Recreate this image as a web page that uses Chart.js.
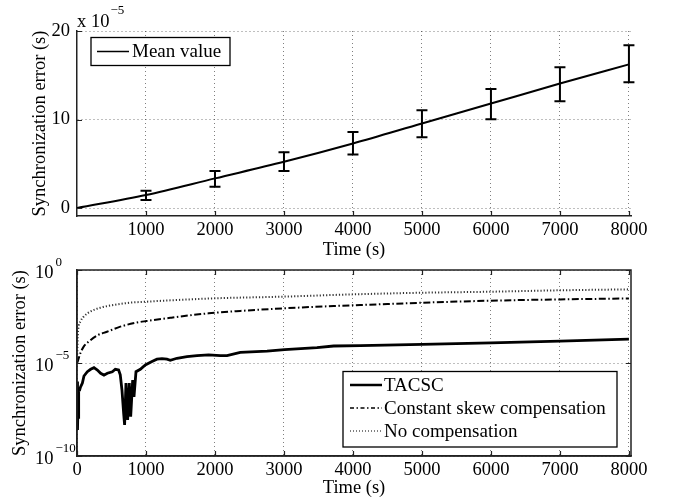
<!DOCTYPE html>
<html lang="en">
<head>
<meta charset="UTF-8">
<title>Synchronization error</title>
<script src="https://cdn.jsdelivr.net/npm/chart.js@4"></script>
<style>
  body { margin: 0; background: #fff; }
  #wrap { position: relative; width: 673px; height: 502px; }
  .plot { position: absolute; left: 0; width: 673px; }
  #topBox { top: 0; height: 270px; }
  #bottomBox { top: 250px; height: 252px; }
</style>
</head>
<body>
<div id="wrap">
  <div class="plot" id="topBox"><canvas id="topChart"></canvas></div>
  <div class="plot" id="bottomBox"><canvas id="bottomChart"></canvas></div>
</div>
<script>
// ---- top panel: mean synchronization error, in units of 1e-5 s ----
var meanTimes  = [0, 1000, 2000, 3000, 4000, 5000, 6000, 7000, 8000];
var meanValues = [0, 1.47, 3.35, 5.22, 7.29, 9.55, 11.8, 14.06, 16.23];
var errTimes   = [1000, 2000, 3000, 4000, 5000, 6000, 7000, 8000];
var errLow     = [0.9, 2.4, 4.17, 6.05, 8.0, 10.03, 12.06, 14.2];
var errHigh    = [1.95, 4.17, 6.3, 8.6, 11.05, 13.45, 15.9, 18.4];
var topXTicks  = [1000, 2000, 3000, 4000, 5000, 6000, 7000, 8000];
var topYTicks  = [0, 10, 20];

// ---- bottom panel: synchronization error (s), log scale ----
var tacscTimes  = [0, 5, 10, 15, 20, 28, 38, 50, 78, 101, 150, 198, 246, 295, 343, 391, 440, 512, 555, 603, 627,
                   652, 676, 690, 710, 734, 758, 778, 807, 826, 855, 918, 990, 1087, 1159, 1232, 1304, 1352, 1449,
                   1594, 1739, 1908, 2077, 2174, 2367, 2754, 3009, 3478, 3720, 4106, 5000, 6000, 7000, 8000];
var tacscValues = [1.0e-6, 1.0e-8, 2.5e-9, 1.0e-7, 1.0e-8, 3.2e-7, 3.5e-7, 5.0e-7, 8.3e-7, 2.0e-6, 3.4e-6, 4.6e-6,
                   5.6e-6, 4.2e-6, 2.8e-6, 2.2e-6, 2.8e-6, 3.4e-6, 4.6e-6, 4.2e-6, 2.3e-6,
                   3.5e-7, 2.0e-8, 4.7e-9, 8.3e-7, 8.7e-9, 8.3e-7, 1.3e-8, 1.2e-6, 1.5e-7, 3.4e-6, 4.6e-6, 7.8e-6,
                   1.2e-5, 1.6e-5, 1.7e-5, 1.6e-5, 1.4e-5, 1.8e-5,
                   2.2e-5, 2.5e-5, 2.7e-5, 2.5e-5, 2.5e-5, 3.7e-5, 4.4e-5, 5.2e-5, 6.7e-5, 8.2e-5, 8.6e-5,
                   1.0e-4, 1.2e-4, 1.5e-4, 1.9e-4];
var constTimes  = [0, 10, 48, 97, 169, 290, 435, 628, 869, 1005, 1352, 1908, 2367, 3009, 3720, 4106, 5000, 6000, 7000, 8000];
var constValues = [1.0e-5, 1.2e-5, 3.3e-5, 7.6e-5, 1.4e-4, 3.0e-4, 4.8e-4, 9.0e-4, 1.5e-3, 1.8e-3, 2.7e-3, 4.7e-3,
                   6.3e-3, 8.7e-3, 1.16e-2, 1.31e-2, 1.74e-2, 2.24e-2, 2.63e-2, 2.95e-2];
var noCompTimes  = [0, 15, 48, 97, 193, 338, 531, 773, 1005, 1352, 2000, 3000, 4000, 5000, 6000, 7000, 8000];
var noCompValues = [1.3e-5, 5.0e-4, 1.67e-3, 3.1e-3, 5.8e-3, 9.4e-3, 1.31e-2, 1.75e-2, 1.98e-2, 2.34e-2, 3.0e-2,
                    3.7e-2, 4.9e-2, 6.0e-2, 6.8e-2, 8.1e-2, 9.1e-2];
var bottomXTicks  = [0, 1000, 2000, 3000, 4000, 5000, 6000, 7000, 8000];
var bottomYTicks  = [1e-10, 1e-5, 1];
var bottomYLabels = ['\u221210', '\u22125', '0'];

var FONT = '"Liberation Serif", "Times New Roman", serif';
var gridColor = 'rgba(0,0,0,0.5)';

function pairs(xs, ys) {
    return xs.map(function (x, i) { return { x: x, y: ys[i] }; });
}
function fixTicks(values) {
    return function (scale) {
        scale.ticks = values.map(function (v) { return { value: v }; });
    };
}
function plainLabel(v) { return String(v); }

// error bars on the mean curve
var errorBarPlugin = {
    id: 'errorBars',
    afterDatasetsDraw: function (chart) {
        var xs = chart.scales.x, ys = chart.scales.y, ctx = chart.ctx;
        ctx.save();
        ctx.strokeStyle = '#000';
        ctx.lineWidth = 2;
        for (var i = 0; i < errTimes.length; i++) {
            var px = xs.getPixelForValue(errTimes[i]);
            var lo = ys.getPixelForValue(errLow[i]);
            var hi = ys.getPixelForValue(errHigh[i]);
            ctx.beginPath();
            ctx.moveTo(px, lo); ctx.lineTo(px, hi);
            ctx.moveTo(px - 5.5, lo); ctx.lineTo(px + 5.5, lo);
            ctx.moveTo(px - 5.5, hi); ctx.lineTo(px + 5.5, hi);
            ctx.stroke();
        }
        ctx.restore();
    }
};

// inward tick marks, optional full box, legend box and exponent labels
var framePlugin = {
    id: 'frame',
    afterDraw: function (chart, args, opts) {
        var ctx = chart.ctx, a = chart.chartArea;
        var xs = chart.scales.x, ys = chart.scales.y;
        ctx.save();
        ctx.strokeStyle = '#222';
        ctx.lineWidth = 1.2;
        ctx.beginPath();
        xs.ticks.forEach(function (t) {
            var px = Math.round(xs.getPixelForValue(t.value)) + 0.5;
            ctx.moveTo(px, a.bottom); ctx.lineTo(px, a.bottom - 5);
            if (opts.box) { ctx.moveTo(px, a.top); ctx.lineTo(px, a.top + 5); }
        });
        ys.ticks.forEach(function (t) {
            var py = Math.round(ys.getPixelForValue(t.value)) + 0.5;
            ctx.moveTo(a.left, py); ctx.lineTo(a.left + 5, py);
            if (opts.box) { ctx.moveTo(a.right, py); ctx.lineTo(a.right - 5, py); }
        });
        ctx.stroke();
        if (opts.box) {
            ctx.lineWidth = 1.5;
            ctx.strokeRect(a.left, a.top, a.right - a.left, a.bottom - a.top);
        }

        // legend
        var lg = opts.legend;
        if (lg) {
            ctx.fillStyle = '#fff';
            ctx.fillRect(lg.left, lg.top, lg.width, lg.height);
            ctx.strokeStyle = '#000';
            ctx.lineWidth = 1.3;
            ctx.setLineDash([]);
            ctx.strokeRect(lg.left, lg.top, lg.width, lg.height);
            ctx.font = '19px ' + FONT;
            ctx.fillStyle = '#000';
            ctx.textBaseline = 'middle';
            lg.items.forEach(function (it, i) {
                var cy = lg.firstRow + i * lg.rowHeight;
                ctx.save();
                ctx.strokeStyle = it.color || '#000';
                ctx.lineWidth = it.width;
                ctx.setLineDash(it.dash || []);
                ctx.beginPath();
                ctx.moveTo(lg.lineX0, cy); ctx.lineTo(lg.lineX1, cy);
                ctx.stroke();
                ctx.restore();
                ctx.fillText(it.label, lg.textX, cy + 1);
            });
        }

        // exponent notes
        ctx.fillStyle = '#000';
        ctx.textBaseline = 'middle';
        ctx.textAlign = 'left';
        if (opts.multiplier) {
            ctx.font = '18.5px ' + FONT;
            var w = ctx.measureText('x 10').width;
            ctx.fillText('x 10', a.left, a.top - 9);
            ctx.font = '13px ' + FONT;
            ctx.fillText('\u22125', a.left + w + 1, a.top - 20);
        }
        if (opts.logLabels) {
            ys.ticks.forEach(function (t, i) {
                var py = ys.getPixelForValue(t.value);
                ctx.font = '18.5px ' + FONT;
                ctx.fillText('10', 35, py + 3);
                ctx.font = '13px ' + FONT;
                ctx.fillText(bottomYLabels[i], 55.5, py - 7);
            });
        }
        ctx.restore();
    }
};

function axisTitle(text, padding) {
    return { display: true, text: text, color: '#000', font: { family: FONT, size: 18.5 }, padding: padding };
}
var tickFont = { family: FONT, size: 18.5 };

// ---------- top chart ----------
new Chart(document.getElementById('topChart').getContext('2d'), {
    type: 'line',
    data: {
        datasets: [{
            label: 'Mean value',
            data: pairs(meanTimes, meanValues),
            borderColor: '#000',
            borderWidth: 2,
            pointRadius: 0,
            cubicInterpolationMode: 'monotone'
        }]
    },
    options: {
        animation: false,
        responsive: true,
        maintainAspectRatio: false,
        devicePixelRatio: 1,
        layout: { padding: { left: 0, right: 42, top: 31, bottom: 0 } },
        plugins: {
            legend: { display: false },
            tooltip: { enabled: false },
            frame: {
                box: false,
                multiplier: true,
                legend: {
                    left: 91, top: 37.5, width: 139, height: 28,
                    firstRow: 51.5, rowHeight: 0,
                    lineX0: 97, lineX1: 129, textX: 132,
                    items: [{ label: 'Mean value', width: 1.5 }]
                }
            }
        },
        scales: {
            x: {
                type: 'linear', min: 0, max: 8030,
                afterBuildTicks: fixTicks(topXTicks),
                afterFit: function (s) { s.height = 54; },
                grid: { color: gridColor, drawTicks: false, lineWidth: 1 },
                border: { display: true, color: '#222', width: 1.5, dash: [1, 3] },
                ticks: { color: '#000', font: tickFont, padding: 3, maxRotation: 0, autoSkip: false, callback: plainLabel },
                title: axisTitle('Time (s)', { top: 0, bottom: 9 })
            },
            y: {
                type: 'linear', min: -0.9, max: 20,
                afterBuildTicks: fixTicks(topYTicks),
                afterFit: function (s) { s.width = 77; },
                grid: { color: gridColor, drawTicks: false, lineWidth: 1 },
                border: { display: true, color: '#222', width: 1.5, dash: [1, 3] },
                ticks: { color: '#000', font: tickFont, padding: 7, callback: plainLabel },
                title: axisTitle('Synchronization error (s)', { top: 29, bottom: 0 })
            }
        }
    },
    plugins: [errorBarPlugin, framePlugin]
});

// ---------- bottom chart ----------
new Chart(document.getElementById('bottomChart').getContext('2d'), {
    type: 'line',
    data: {
        datasets: [{
            label: 'No compensation',
            data: pairs(noCompTimes, noCompValues),
            borderColor: '#333',
            borderWidth: 2,
            borderDash: [1.2, 2],
            pointRadius: 0,
            cubicInterpolationMode: 'monotone'
        }, {
            label: 'Constant skew compensation',
            data: pairs(constTimes, constValues),
            borderColor: '#000',
            borderWidth: 2,
            borderDash: [7, 2.5, 1.5, 2.5],
            pointRadius: 0,
            cubicInterpolationMode: 'monotone'
        }, {
            label: 'TACSC',
            data: pairs(tacscTimes, tacscValues),
            borderColor: '#000',
            borderWidth: 2.8,
            pointRadius: 0,
            tension: 0
        }]
    },
    options: {
        animation: false,
        responsive: true,
        maintainAspectRatio: false,
        devicePixelRatio: 1,
        layout: { padding: { left: 0, right: 42, top: 20, bottom: 0 } },
        plugins: {
            legend: { display: false },
            tooltip: { enabled: false },
            frame: {
                box: true,
                logLabels: true,
                legend: {
                    left: 343, top: 121.5, width: 274, height: 75.5,
                    firstRow: 135, rowHeight: 23,
                    lineX0: 350, lineX1: 382, textX: 384,
                    items: [
                        { label: 'TACSC', width: 2.5 },
                        { label: 'Constant skew compensation', width: 1.5, dash: [4, 2.5, 1.5, 2.5] },
                        { label: 'No compensation', width: 1.5, dash: [1, 2], color: '#555' }
                    ]
                }
            }
        },
        scales: {
            x: {
                type: 'linear', min: 0, max: 8030,
                afterBuildTicks: fixTicks(bottomXTicks),
                afterFit: function (s) { s.height = 46; },
                grid: { color: gridColor, drawTicks: false, lineWidth: 1 },
                border: { display: true, color: '#222', width: 1.5, dash: [1, 3] },
                ticks: { color: '#000', font: tickFont, padding: 3, maxRotation: 0, autoSkip: false, callback: plainLabel },
                title: axisTitle('Time (s)', { top: 0, bottom: 3 })
            },
            y: {
                type: 'logarithmic', min: 1e-10, max: 1,
                afterBuildTicks: fixTicks(bottomYTicks),
                afterFit: function (s) { s.width = 77; },
                grid: { color: gridColor, drawTicks: false, lineWidth: 1 },
                border: { display: true, color: '#222', width: 1.5, dash: [1, 3] },
                ticks: { display: false },
                title: axisTitle('Synchronization error (s)', { top: 9, bottom: 0 })
            }
        }
    },
    plugins: [framePlugin]
});
</script>
</body>
</html>
